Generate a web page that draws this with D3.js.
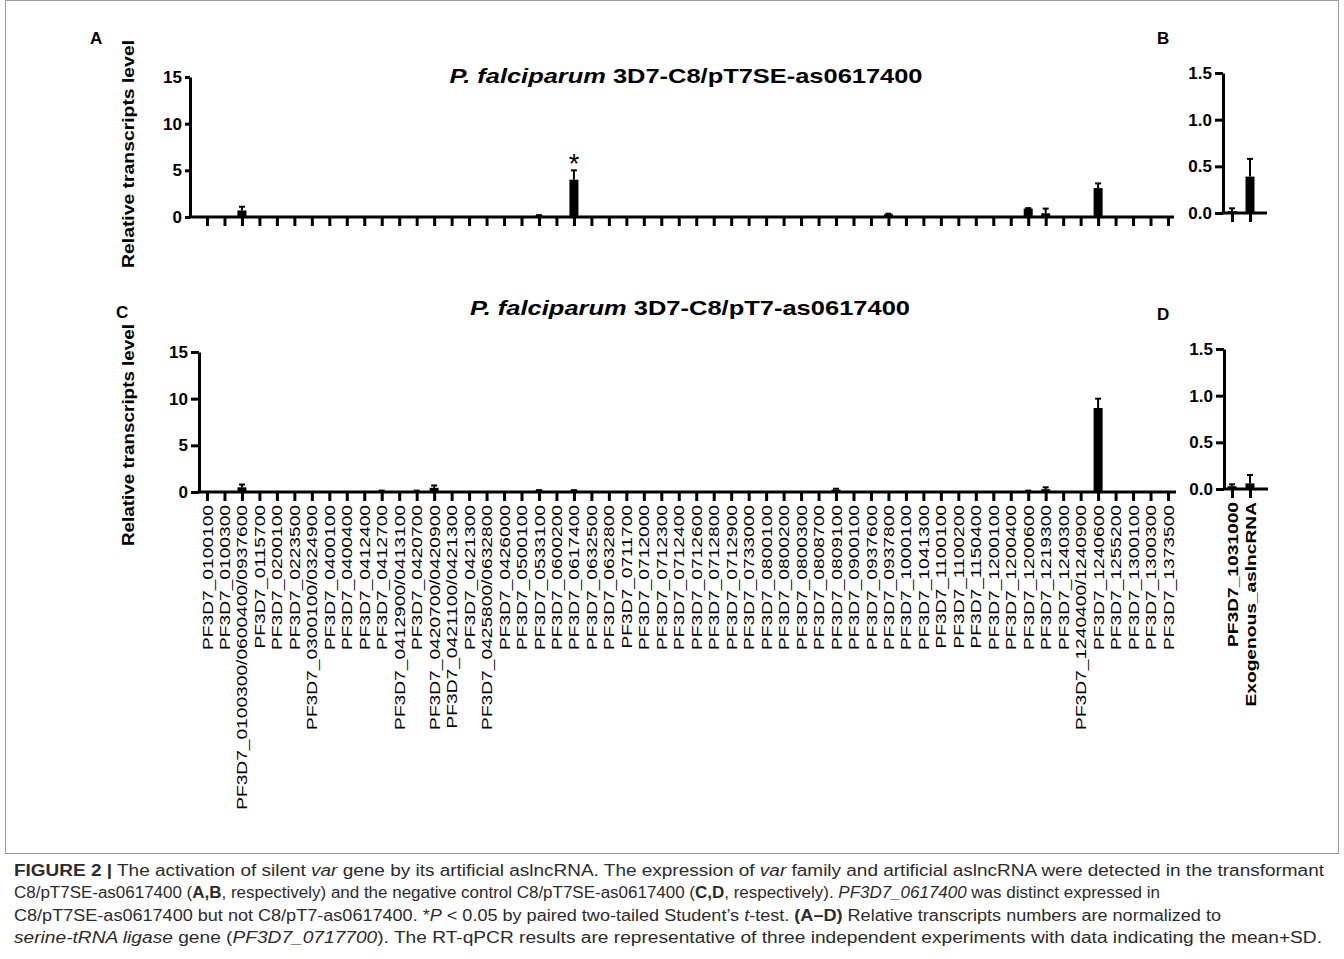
<!DOCTYPE html>
<html>
<head>
<meta charset="utf-8">
<script src="https://cdn.jsdelivr.net/npm/d3@7"></script>
<style>
  body { margin: 0; background: #fff; }
  text { font-family: "Liberation Sans", Arial, Helvetica, sans-serif; }
</style>
</head>
<body>
<div id="chart"></div>
<script>
// gene ids shared by panels A and C
const genes = [
  "PF3D7_0100100", "PF3D7_0100300", "PF3D7_0100300/0600400/0937600", "PF3D7_0115700",
  "PF3D7_0200100", "PF3D7_0223500", "PF3D7_0300100/0324900", "PF3D7_0400100",
  "PF3D7_0400400", "PF3D7_0412400", "PF3D7_0412700", "PF3D7_0412900/0413100",
  "PF3D7_0420700", "PF3D7_0420700/0420900", "PF3D7_0421100/0421300", "PF3D7_0421300",
  "PF3D7_0425800/0632800", "PF3D7_0426000", "PF3D7_0500100", "PF3D7_0533100",
  "PF3D7_0600200", "PF3D7_0617400", "PF3D7_0632500", "PF3D7_0632800",
  "PF3D7_0711700", "PF3D7_0712000", "PF3D7_0712300", "PF3D7_0712400",
  "PF3D7_0712600", "PF3D7_0712800", "PF3D7_0712900", "PF3D7_0733000",
  "PF3D7_0800100", "PF3D7_0800200", "PF3D7_0800300", "PF3D7_0808700",
  "PF3D7_0809100", "PF3D7_0900100", "PF3D7_0937600", "PF3D7_0937800",
  "PF3D7_1000100", "PF3D7_1041300", "PF3D7_1100100", "PF3D7_1100200",
  "PF3D7_1150400", "PF3D7_1200100", "PF3D7_1200400", "PF3D7_1200600",
  "PF3D7_1219300", "PF3D7_1240300", "PF3D7_1240400/1240900", "PF3D7_1240600",
  "PF3D7_1255200", "PF3D7_1300100", "PF3D7_1300300", "PF3D7_1373500"
];

// panel A: 3D7-C8/pT7SE-as0617400
const meanA = [
  0, 0, 0.7, 0, 0, 0, 0, 0, 0, 0,
  0, 0, 0, 0, 0, 0, 0, 0, 0, 0.15,
  0, 4.0, 0, 0, 0, 0, 0, 0, 0, 0,
  0, 0, 0, 0, 0, 0, 0, 0.05, 0, 0.3,
  0, 0, 0, 0, 0, 0, 0, 0.9, 0.4, 0,
  0, 3.1, 0, 0, 0, 0
];
const sdA = [
  0, 0, 0.4, 0, 0, 0, 0, 0, 0, 0,
  0, 0, 0, 0, 0, 0, 0, 0, 0, 0.05,
  0, 1.0, 0, 0, 0, 0, 0, 0, 0, 0,
  0, 0, 0, 0, 0, 0, 0, 0, 0, 0.05,
  0, 0, 0, 0, 0, 0, 0, 0.05, 0.5, 0,
  0, 0.5, 0, 0, 0, 0
];

// panel C: 3D7-C8/pT7-as0617400
const meanC = [
  0, 0, 0.5, 0, 0, 0, 0, 0, 0, 0,
  0.1, 0, 0.1, 0.45, 0.05, 0.05, 0, 0, 0, 0.15,
  0, 0.15, 0, 0, 0, 0, 0, 0, 0, 0,
  0, 0, 0, 0, 0, 0, 0.25, 0, 0, 0.05,
  0, 0, 0, 0, 0, 0, 0, 0.1, 0.3, 0,
  0, 9.0, 0.05, 0, 0, 0
];
const sdC = [
  0, 0, 0.3, 0, 0, 0, 0, 0, 0, 0,
  0.05, 0, 0.05, 0.25, 0, 0, 0, 0, 0, 0.05,
  0, 0.05, 0, 0, 0, 0, 0, 0, 0, 0,
  0, 0, 0, 0, 0, 0, 0.1, 0, 0, 0,
  0, 0, 0, 0, 0, 0, 0, 0.05, 0.2, 0,
  0, 1.0, 0, 0, 0, 0
];

// panels B and D
const smallCats = ["PF3D7_1031000", "Exogenous_aslncRNA"];
const meanB = [0.02, 0.39];
const sdB = [0.03, 0.19];
const meanD = [0.03, 0.06];
const sdD = [0.02, 0.09];

const bigTicks = [0, 5, 10, 15];
const smallTicks = [0, 0.5, 1.0, 1.5];
const starred = ["PF3D7_0617400"];

const svg = d3.select("#chart").append("svg")
    .attr("width", 1344)
    .attr("height", 959);

// thin frame round the figure
svg.append("rect")
    .attr("x", 5.5).attr("y", 0.5)
    .attr("width", 1333).attr("height", 853)
    .attr("fill", "none")
    .attr("stroke", "#9a9a9a");

const fit = (t, len) => t.attr("textLength", len).attr("lengthAdjust", "spacingAndGlyphs");

//one bar panel
function panel(o) {
    const g = svg.append("g");
    const y0 = o.y(0);

    // y axis
    const yAxis = d3.axisLeft(o.y)
        .tickValues(o.ticks)
        .tickSize(o.tickLen)
        .tickSizeOuter(0)
        .tickPadding(3)
        .tickFormat(o.fmt);
    const ya = g.append("g")
        .attr("transform", `translate(${o.axisX},0)`)
        .call(yAxis);
    ya.select(".domain").attr("stroke-width", 3).attr("stroke", "#000");
    ya.selectAll(".tick line").attr("stroke-width", 3).attr("stroke", "#000");
    ya.selectAll(".tick text")
        .attr("fill", "#000")
        .style("font-size", "17px")
        .style("font-weight", "bold");

    // x axis line (runs from the y axis a little past the last tick)
    const last = o.x(o.cats[o.cats.length - 1]);
    g.append("line")
        .attr("x1", o.axisX - 1.5).attr("x2", last + o.tail)
        .attr("y1", y0).attr("y2", y0)
        .attr("stroke", "#000").attr("stroke-width", 3);

    const xAxis = d3.axisBottom(o.x)
        .tickSize(9)
        .tickSizeOuter(0)
        .tickPadding(0)
        .tickFormat(o.labels ? d => d : "");
    const xa = g.append("g")
        .attr("transform", `translate(0,${y0})`)
        .call(xAxis);
    xa.select(".domain").remove();
    xa.selectAll(".tick line").attr("stroke-width", 3).attr("stroke", "#000");
    if (o.labels) {
        const k = 1.37;
        xa.selectAll(".tick text")
            .attr("fill", "#000")
            .attr("transform", `rotate(-90) scale(${k},1)`)
            .attr("x", -13 / k)
            .attr("y", 0)
            .attr("dy", "0.36em")
            .style("text-anchor", "end")
            .style("font-size", "14px")
            .style("font-weight", o.boldLabels ? "bold" : "normal");
    } else {
        xa.selectAll(".tick text").remove();
    }

    const rows = o.cats.map((c, i) => ({c, m: o.mean[i], s: o.sd[i]}));

    // bars
    g.selectAll("rect.bar")
        .data(rows.filter(d => d.m > 0))
        .join("rect")
        .attr("class", "bar")
        .attr("x", d => o.x(d.c) - 4.5)
        .attr("width", 9)
        .attr("y", d => o.y(d.m))
        .attr("height", d => y0 - o.y(d.m))
        .attr("fill", "#000");

    // error bars (mean + SD)
    const err = rows.filter(d => d.s > 0);
    g.selectAll("line.err")
        .data(err)
        .join("line")
        .attr("class", "err")
        .attr("x1", d => o.x(d.c)).attr("x2", d => o.x(d.c))
        .attr("y1", d => o.y(d.m)).attr("y2", d => o.y(d.m + d.s))
        .attr("stroke", "#000").attr("stroke-width", 2);
    g.selectAll("line.cap")
        .data(err)
        .join("line")
        .attr("class", "cap")
        .attr("x1", d => o.x(d.c) - 3).attr("x2", d => o.x(d.c) + 3)
        .attr("y1", d => o.y(d.m + d.s)).attr("y2", d => o.y(d.m + d.s))
        .attr("stroke", "#000").attr("stroke-width", 2);

    // significance stars
    if (o.stars) {
        g.selectAll("text.star")
            .data(rows.filter(d => o.stars.includes(d.c)))
            .join("text")
            .attr("class", "star")
            .attr("x", d => o.x(d.c))
            .attr("y", d => o.y(d.m + d.s) + 3)
            .attr("text-anchor", "middle")
            .style("font-size", "27px")
            .text("*");
    }

    // y axis title
    if (o.yTitle) {
        fit(g.append("text")
            .attr("transform", `translate(${o.yTitle.x},${o.yTitle.cy}) rotate(-90)`)
            .attr("text-anchor", "middle")
            .attr("dy", "0.36em")
            .style("font-size", "17px")
            .style("font-weight", "bold")
            .text("Relative transcripts level"), o.yTitle.len);
    }
    return g;
}

function title(cx, y, rest, len) {
    const t = svg.append("text")
        .attr("x", cx).attr("y", y)
        .attr("text-anchor", "middle")
        .style("font-size", "21px")
        .style("font-weight", "bold");
    t.append("tspan").style("font-style", "italic").text("P. falciparum");
    t.append("tspan").text(" " + rest);
    fit(t, len);
}

function letter(x, y, s) {
    svg.append("text").attr("x", x).attr("y", y)
        .style("font-size", "17px").style("font-weight", "bold").text(s);
}

const xBig = d3.scalePoint().domain(genes).range([207, 1168]);
const xSmall = d3.scalePoint().domain(smallCats).range([1232, 1250]);
const fmt0 = d3.format("d");
const fmt1 = d3.format(".1f");

// A
panel({
    x: xBig, y: d3.scaleLinear().domain([0, 15]).range([217, 77]),
    cats: genes, mean: meanA, sd: sdA, ticks: bigTicks, fmt: fmt0,
    axisX: 190, tickLen: 5, tail: 6, labels: false, stars: starred,
    yTitle: {x: 128, cy: 154, len: 228}
});
// B
panel({
    x: xSmall, y: d3.scaleLinear().domain([0, 1.5]).range([213, 73]),
    cats: smallCats, mean: meanB, sd: sdB, ticks: smallTicks, fmt: fmt1,
    axisX: 1223, tickLen: 8, tail: 17, labels: false
});
// C
panel({
    x: xBig, y: d3.scaleLinear().domain([0, 15]).range([492, 352]),
    cats: genes, mean: meanC, sd: sdC, ticks: bigTicks, fmt: fmt0,
    axisX: 199, tickLen: 8, tail: 8, labels: true,
    yTitle: {x: 128, cy: 435, len: 222}
});
// D
panel({
    x: xSmall, y: d3.scaleLinear().domain([0, 1.5]).range([489, 349]),
    cats: smallCats, mean: meanD, sd: sdD, ticks: smallTicks, fmt: fmt1,
    axisX: 1224, tickLen: 8, tail: 18, labels: true, boldLabels: true
});

title(686, 83, "3D7-C8/pT7SE-as0617400", 473);
title(690, 315, "3D7-C8/pT7-as0617400", 440);

letter(90, 44, "A");
letter(1157, 44, "B");
letter(116, 318, "C");
letter(1157, 320, "D");

// caption
const captionLines = [
    [["FIGURE 2 |", "b"], [" The activation of silent ", "n"], ["var", "i"],
     [" gene by its artificial aslncRNA. The expression of ", "n"], ["var", "i"],
     [" family and artificial aslncRNA were detected in the transformant", "n"]],
    [["C8/pT7SE-as0617400 (", "n"], ["A,B", "b"],
     [", respectively) and the negative control C8/pT7SE-as0617400 (", "n"], ["C,D", "b"],
     [", respectively). ", "n"], ["PF3D7_0617400", "i"], [" was distinct expressed in", "n"]],
    [["C8/pT7SE-as0617400 but not C8/pT7-as0617400. *", "n"], ["P", "i"],
     [" < 0.05 by paired two-tailed Student\u2019s ", "n"], ["t", "i"], ["-test. ", "n"],
     ["(A\u2013D)", "b"], [" Relative transcripts numbers are normalized to", "n"]],
    [["serine-tRNA ligase", "i"], [" gene (", "n"], ["PF3D7_0717700", "i"],
     ["). The RT-qPCR results are representative of three independent experiments with data indicating the mean+SD.", "n"]]
];
const captionY = [876, 898, 921, 943];
const captionLen = [1310, 1146, 1207, 1308];

captionLines.forEach((parts, i) => {
    const t = svg.append("text")
        .attr("x", 14).attr("y", captionY[i])
        .attr("fill", "#2b2b2b")
        .style("font-size", "16px");
    parts.forEach(([s, st]) => {
        t.append("tspan")
            .style("font-weight", st === "b" ? "bold" : "normal")
            .style("font-style", st === "i" ? "italic" : "normal")
            .text(s);
    });
    fit(t, captionLen[i]);
});
</script>
</body>
</html>
